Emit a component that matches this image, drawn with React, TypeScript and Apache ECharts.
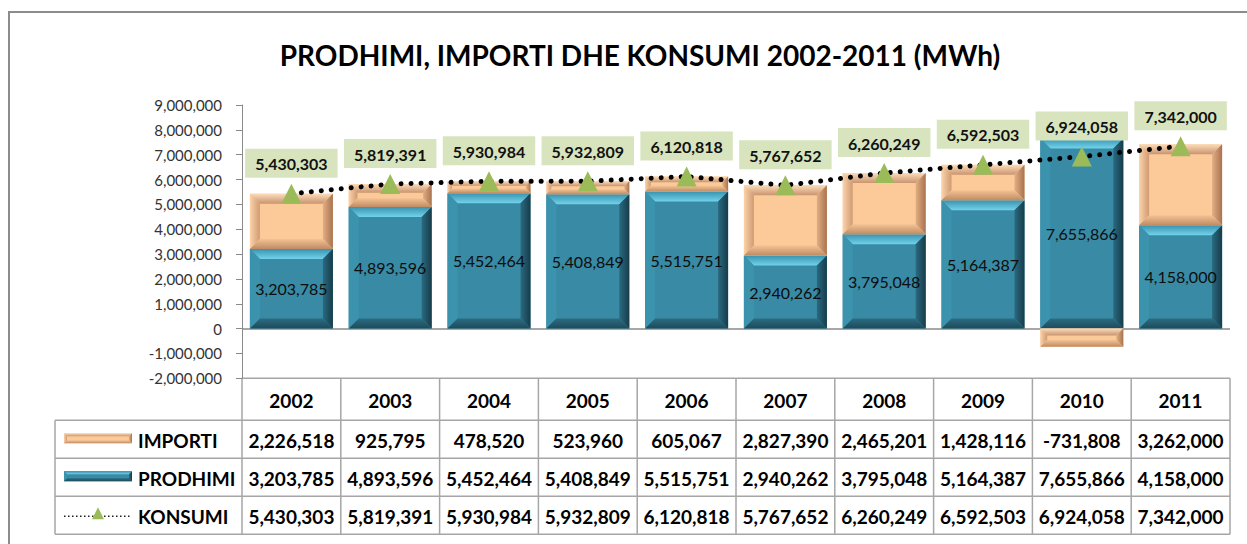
import { useEffect, useRef } from "react";
import * as echarts from "echarts";

const years = ["2002", "2003", "2004", "2005", "2006", "2007", "2008", "2009", "2010", "2011"];
const importi = [2226518, 925795, 478520, 523960, 605067, 2827390, 2465201, 1428116, -731808, 3262000];
const prodhimi = [3203785, 4893596, 5452464, 5408849, 5515751, 2940262, 3795048, 5164387, 7655866, 4158000];
const konsumi = [5430303, 5819391, 5930984, 5932809, 6120818, 5767652, 6260249, 6592503, 6924058, 7342000];
const yMin = -2000000;
const yMax = 9000000;
const yStep = 1000000;
const seriesNames = ["IMPORTI", "PRODHIMI", "KONSUMI"];

const fmt = (v: number) => String(Math.round(v)).replace(/\B(?=(\d{3})+(?!\d))/g, ",");

type Pal = { face: string; top: string[]; left: string[]; right: string[]; bottom: string[] };
const TEAL: Pal = {
  face: "#388aa5",
  top: ["#3a93ae", "#72d2ec"],
  left: ["#3b92ad", "#3c93ae"],
  right: ["#163c4a", "#2a6a80"],
  bottom: ["#1d4a5a", "#2b6c82"],
};
const PEACH: Pal = {
  face: "#fcc998",
  top: ["#fddcb9", "#c9946f"],
  left: ["#fcd3aa", "#cf9a73"],
  right: ["#a8734f", "#e2ae84"],
  bottom: ["#c08b64", "#f3c293"],
};

const grad = (x: number, y: number, x2: number, y2: number, c: string[]) => ({
  type: "linear",
  x,
  y,
  x2,
  y2,
  colorStops: [
    { offset: 0, color: c[0] },
    { offset: 1, color: c[1] },
  ],
});

function bevel(x: number, y: number, w: number, h: number, pal: Pal, bMax: number) {
  const b = Math.max(0, Math.min(bMax, h * 0.38, w * 0.3));
  return [
    { type: "rect", shape: { x, y, width: w, height: h }, style: { fill: pal.face } },
    {
      type: "polygon",
      shape: { points: [[x, y], [x + w, y], [x + w - b, y + b], [x + b, y + b]] },
      style: { fill: grad(0, 0, 0, 1, pal.top) },
    },
    {
      type: "polygon",
      shape: { points: [[x, y], [x + b, y + b], [x + b, y + h - b], [x, y + h]] },
      style: { fill: grad(0, 0, 1, 0, pal.left) },
    },
    {
      type: "polygon",
      shape: { points: [[x + w, y], [x + w, y + h], [x + w - b, y + h - b], [x + w - b, y + b]] },
      style: { fill: grad(1, 0, 0, 0, pal.right) },
    },
    {
      type: "polygon",
      shape: { points: [[x, y + h], [x + b, y + h - b], [x + w - b, y + h - b], [x + w, y + h]] },
      style: { fill: grad(0, 1, 0, 0, pal.bottom) },
    },
  ];
}

const FONT = "Lato, 'Noto Sans', sans-serif";

export default function App() {
  const ref = useRef<HTMLDivElement>(null);
  useEffect(() => {
    if (!ref.current) return;
    const chart = echarts.init(ref.current, undefined, { renderer: "svg" });

    const prodData = prodhimi.map((v, i) => [i, 0, v]);
    const impData = importi.map((v, i) => (v >= 0 ? [i, prodhimi[i], prodhimi[i] + v] : [i, v, 0]));

    const makeRender = (pal: Pal, withLabel: boolean) => (params: any, api: any) => {
      const i = api.value(0);
      const lo = api.value(1);
      const hi = api.value(2);
      const pTop = api.coord([i, hi]);
      const pBot = api.coord([i, lo]);
      const bw = api.size([1, 0])[0] * 0.84;
      const x = pTop[0] - bw / 2;
      const y = pTop[1];
      const h = pBot[1] - pTop[1];
      const children: any[] = bevel(x, y, bw, h, pal, 10);
      if (withLabel) {
        children.push({
          type: "text",
          style: {
            text: fmt(prodhimi[params.dataIndex]),
            x: pTop[0],
            y: y + h / 2,
            align: "center",
            verticalAlign: "middle",
            fontSize: 16,
            fontFamily: FONT,
            fill: "#0d0d0d",
          },
        });
      }
      return { type: "group", children };
    };

    const gridLeft = 242;
    const gridRight = 1247 - 1230;
    const gridTop = 105;
    const gridBottom = 544 - 378.3;

    chart.setOption({
      animation: false,
      backgroundColor: "#ffffff",
      title: {
        text: "PRODHIMI, IMPORTI DHE KONSUMI 2002-2011 (MWh)",
        left: 635,
        textAlign: "center",
        top: 36,
        textStyle: { fontFamily: FONT, fontWeight: "bold", fontSize: 28, color: "#000" },
      },
      grid: { left: gridLeft, right: gridRight, top: gridTop, bottom: gridBottom },
      xAxis: {
        type: "category",
        data: years,
        axisLine: { show: false, onZero: false },
        axisTick: { show: false },
        axisLabel: {
          margin: 22,
          verticalAlign: "middle",
          fontFamily: FONT,
          fontWeight: "bold",
          fontSize: 19,
          color: "#000",
        },
        splitLine: { show: false },
      },
      yAxis: {
        type: "value",
        min: yMin,
        max: yMax,
        interval: yStep,
        axisLine: { show: true, lineStyle: { color: "#8a8a8a", width: 1 } },
        axisTick: { show: true, length: 6, lineStyle: { color: "#8a8a8a" } },
        axisLabel: {
          margin: 20,
          formatter: (v: number) => fmt(v),
          fontFamily: FONT,
          fontSize: 15,
          color: "#333",
        },
        splitLine: { show: false },
      },
      series: [
        {
          name: seriesNames[1],
          type: "custom",
          data: prodData,
          encode: { x: 0, y: [1, 2] },
          renderItem: makeRender(TEAL, true),
          z: 2,
        },
        {
          name: seriesNames[0],
          type: "custom",
          data: impData,
          encode: { x: 0, y: [1, 2] },
          renderItem: makeRender(PEACH, false),
          z: 2,
        },
        {
          name: seriesNames[2],
          type: "line",
          data: konsumi,
          z: 4,
          symbol: "triangle",
          symbolSize: [20, 20],
          itemStyle: { color: "#9bbb59" },
          lineStyle: { color: "#000", width: 5, type: [0.01, 10], cap: "round" },
          label: {
            show: true,
            position: "top",
            distance: 6,
            formatter: (p: any) => fmt(p.value),
            fontFamily: FONT,
            fontWeight: "bold",
            fontSize: 16,
            color: "#111",
            backgroundColor: "#d7e4bd",
            padding: [7, 10, 6, 10],
          },
          markLine: {
            silent: true,
            symbol: "none",
            label: { show: false },
            lineStyle: { color: "#8a8a8a", width: 1.5, type: "solid" },
            data: [{ yAxis: 0 }],
            z: 1,
          },
        },
      ],
    });

    const c0 = chart.convertToPixel({ xAxisIndex: 0 }, 0) as number;
    const c1 = chart.convertToPixel({ xAxisIndex: 0 }, 1) as number;
    const cw = c1 - c0;
    const xL = c0 - cw / 2;
    const xR = xL + cw * years.length;
    const yHead = chart.convertToPixel({ yAxisIndex: 0 }, yMin) as number;
    const rowH = 38;
    const yRow0 = yHead + 42;
    const tableLeft = 55;
    const border = { stroke: "#a6a6a6", lineWidth: 1.5 };
    const g: any[] = [];

    g.push({
      type: "rect",
      shape: { x: 9, y: 12, width: 1400, height: 800 },
      style: { fill: "none", stroke: "#8c8c8c", lineWidth: 2 },
      silent: true,
    });

    g.push({ type: "line", shape: { x1: xL, y1: yHead, x2: xR, y2: yHead }, style: border });
    for (let r = 0; r <= 3; r++) {
      const yy = yRow0 + r * rowH;
      g.push({ type: "line", shape: { x1: tableLeft, y1: yy, x2: xR, y2: yy }, style: border });
    }
    for (let k = 0; k <= years.length; k++) {
      const xx = xL + k * cw;
      g.push({ type: "line", shape: { x1: xx, y1: k === 0 ? yHead - 0.5 : yHead, x2: xx, y2: yRow0 + 3 * rowH }, style: border });
    }
    g.push({ type: "line", shape: { x1: tableLeft, y1: yRow0, x2: tableLeft, y2: yRow0 + 3 * rowH }, style: border });

    const rows = [importi, prodhimi, konsumi];
    rows.forEach((arr, r) => {
      const cy = yRow0 + r * rowH + rowH / 2 + 1;
      g.push({
        type: "text",
        style: {
          text: seriesNames[r],
          x: 138,
          y: cy,
          align: "left",
          verticalAlign: "middle",
          fontFamily: FONT,
          fontWeight: "bold",
          fontSize: 19,
          fill: "#000",
        },
      });
      arr.forEach((v, i) => {
        g.push({
          type: "text",
          style: {
            text: fmt(v),
            x: xL + cw * i + cw / 2,
            y: cy,
            align: "center",
            verticalAlign: "middle",
            fontFamily: FONT,
            fontWeight: "bold",
            fontSize: 19,
            fill: "#000",
          },
        });
      });
    });

    const k0 = yRow0 + rowH / 2 - 1;
    bevel(64, k0 - 5, 68, 10, PEACH, 3).forEach((e) => g.push(e));
    const k1 = yRow0 + rowH * 1.5 - 1;
    bevel(64, k1 - 5, 68, 10, TEAL, 3).forEach((e) => g.push(e));
    const k2 = yRow0 + rowH * 2.5 + 1;
    g.push({
      type: "line",
      shape: { x1: 64, y1: k2, x2: 132, y2: k2 },
      style: { stroke: "#222", lineWidth: 1.5, lineDash: [1.5, 2.5] },
    });
    g.push({
      type: "polygon",
      shape: { points: [[98, k2 - 9], [104, k2 + 3], [92, k2 + 3]] },
      style: { fill: "#9bbb59" },
    });

    chart.setOption({ graphic: g });

    return () => chart.dispose();
  }, []);

  return <div ref={ref} style={{ position: "fixed", left: 0, top: 0, width: 1247, height: 544 }} />;
}
